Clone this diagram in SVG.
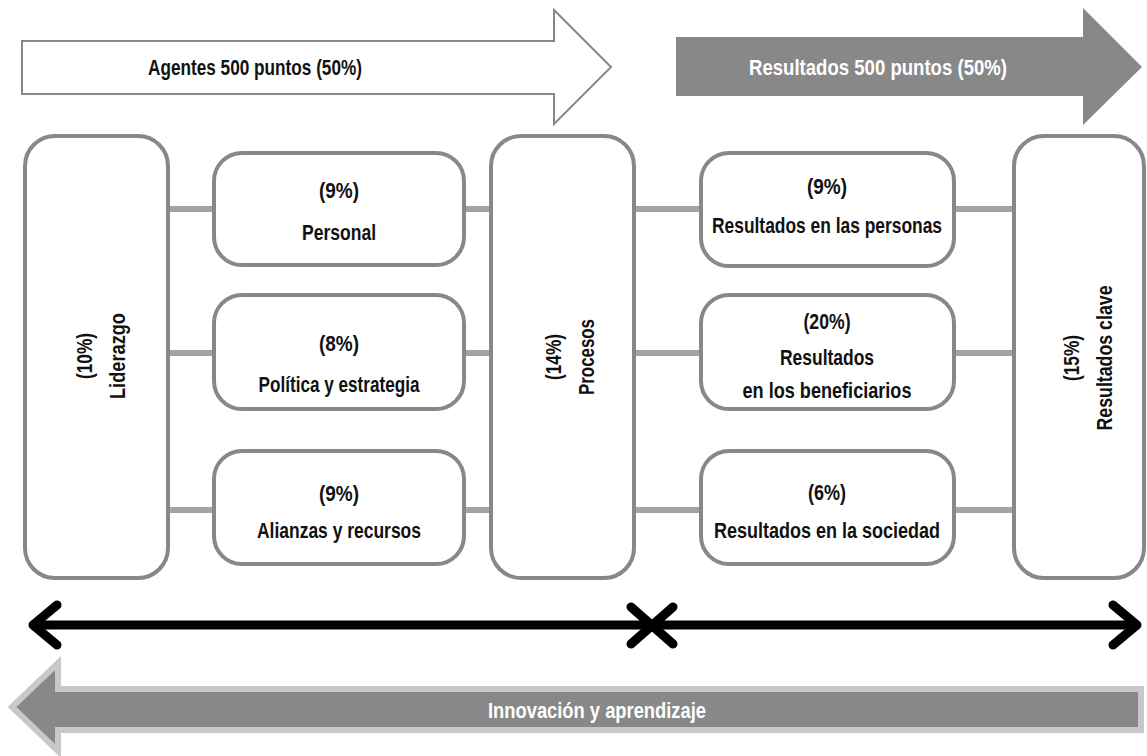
<svg xmlns="http://www.w3.org/2000/svg" width="1147" height="756" viewBox="0 0 1147 756">
<style>
.box{fill:#fff;stroke:#888;stroke-width:4}
.conn{stroke:#a3a3a3;stroke-width:6;fill:none}
.t{font-family:"Liberation Sans",Arial,sans-serif;font-weight:bold;font-size:22px;fill:#111;text-anchor:middle}
.w{fill:#fff}
.blk{stroke:#000;stroke-width:9;fill:none;stroke-linecap:round;stroke-linejoin:round}
</style>
<rect width="1147" height="756" fill="#fff"/>
<g id="connectors">
<line class="conn" x1="170" y1="209" x2="1012" y2="209"/>
<line class="conn" x1="170" y1="353" x2="1012" y2="353"/>
<line class="conn" x1="170" y1="510" x2="1012" y2="510"/>
</g>
<g id="agentes">
<polygon points="22,41 554,41 554,10 611,67 554,124 554,94 22,94" fill="#fff" stroke="#888" stroke-width="2"/>
<text class="t" x="255" y="75" textLength="214" lengthAdjust="spacingAndGlyphs">Agentes 500 puntos (50%)</text>
</g>
<g id="resultados">
<polygon points="676,37 1083,37 1083,8 1142,67 1083,125 1083,96 676,96" fill="#888"/>
<text class="t w" x="878" y="75" textLength="258" lengthAdjust="spacingAndGlyphs">Resultados 500 puntos (50%)</text>
</g>
<g id="liderazgo">
<rect class="box" x="25" y="136" width="143" height="442" rx="30"/>
<text class="t" transform="translate(92,356) rotate(-90)" textLength="46" lengthAdjust="spacingAndGlyphs">(10%)</text>
<text class="t" transform="translate(125,356) rotate(-90)" textLength="86" lengthAdjust="spacingAndGlyphs">Liderazgo</text>
</g>
<g id="personal">
<rect class="box" x="214" y="153" width="250" height="112" rx="28"/>
<text class="t" x="339" y="198" textLength="40" lengthAdjust="spacingAndGlyphs">(9%)</text>
<text class="t" x="339" y="240" textLength="74" lengthAdjust="spacingAndGlyphs">Personal</text>
</g>
<g id="politica">
<rect class="box" x="214" y="295" width="250" height="114" rx="28"/>
<text class="t" x="339" y="351" textLength="40" lengthAdjust="spacingAndGlyphs">(8%)</text>
<text class="t" x="339" y="392" textLength="161" lengthAdjust="spacingAndGlyphs">Política y estrategia</text>
</g>
<g id="alianzas">
<rect class="box" x="214" y="451" width="250" height="113" rx="28"/>
<text class="t" x="339" y="501" textLength="40" lengthAdjust="spacingAndGlyphs">(9%)</text>
<text class="t" x="339" y="538" textLength="164" lengthAdjust="spacingAndGlyphs">Alianzas y recursos</text>
</g>
<g id="procesos">
<rect class="box" x="491" y="136" width="143" height="442" rx="30"/>
<text class="t" transform="translate(561,357) rotate(-90)" textLength="46" lengthAdjust="spacingAndGlyphs">(14%)</text>
<text class="t" transform="translate(594,357) rotate(-90)" textLength="76" lengthAdjust="spacingAndGlyphs">Procesos</text>
</g>
<g id="personas">
<rect class="box" x="701" y="153" width="253" height="113" rx="28"/>
<text class="t" x="827" y="194" textLength="40" lengthAdjust="spacingAndGlyphs">(9%)</text>
<text class="t" x="827" y="233" textLength="230" lengthAdjust="spacingAndGlyphs">Resultados en las personas</text>
</g>
<g id="beneficiarios">
<rect class="box" x="701" y="295" width="253" height="114" rx="28"/>
<text class="t" x="827" y="329" textLength="47" lengthAdjust="spacingAndGlyphs">(20%)</text>
<text class="t" x="827" y="365" textLength="94" lengthAdjust="spacingAndGlyphs">Resultados</text>
<text class="t" x="827" y="398" textLength="169" lengthAdjust="spacingAndGlyphs">en los beneficiarios</text>
</g>
<g id="sociedad">
<rect class="box" x="701" y="451" width="253" height="113" rx="28"/>
<text class="t" x="827" y="500" textLength="38" lengthAdjust="spacingAndGlyphs">(6%)</text>
<text class="t" x="827" y="538" textLength="226" lengthAdjust="spacingAndGlyphs">Resultados en la sociedad</text>
</g>
<g id="clave">
<rect class="box" x="1014" y="136" width="130" height="442" rx="30"/>
<text class="t" transform="translate(1079,358) rotate(-90)" textLength="46" lengthAdjust="spacingAndGlyphs">(15%)</text>
<text class="t" transform="translate(1112,358) rotate(-90)" textLength="145" lengthAdjust="spacingAndGlyphs">Resultados clave</text>
</g>
<g id="ejes">
<line class="blk" x1="35" y1="625" x2="1135" y2="625"/>
<polyline class="blk" points="57,605 33,625 57,645"/>
<polyline class="blk" points="1113,605 1137,625 1113,645"/>
<line class="blk" x1="631" y1="607" x2="673" y2="644"/>
<line class="blk" x1="631" y1="644" x2="673" y2="607"/>
</g>
<g id="innovacion">
<polygon points="12,707 58,663 58,689 1141,689 1141,730 58,730 58,751" fill="#888" stroke="#c8c8c8" stroke-width="6"/>
<text class="t w" x="597" y="718" textLength="218" lengthAdjust="spacingAndGlyphs">Innovación y aprendizaje</text>
</g>
</svg>
